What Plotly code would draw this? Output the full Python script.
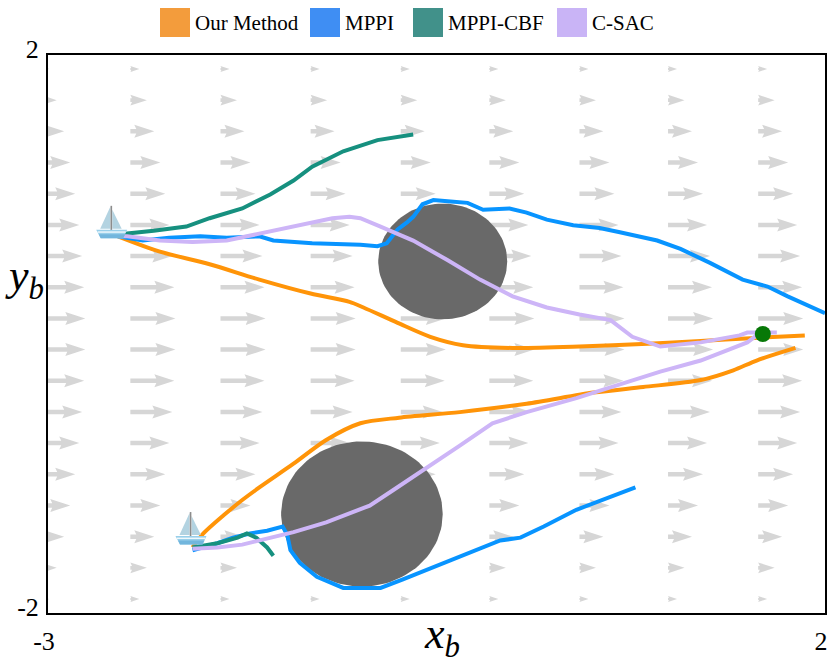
import base64
import numpy as np
import plotly.graph_objects as go

## 1. Data

# wind field: tail x of each arrow column, y of each row, arrow length (x units) per row
wind_x = [-3.05, -2.47, -1.89, -1.31, -0.73, -0.16, 0.42, 0.99, 1.57]
wind_y = [-1.9, -1.676, -1.453, -1.229, -1.006, -0.782, -0.559, -0.335, -0.112,
          0.112, 0.335, 0.559, 0.782, 1.006, 1.229, 1.453, 1.676, 1.9]
wind_u = [0.058, 0.106, 0.154, 0.193, 0.225, 0.251, 0.270, 0.283, 0.290,
          0.290, 0.283, 0.270, 0.251, 0.225, 0.193, 0.154, 0.106, 0.058]

# circular obstacles
obstacle_x = [-0.46, -0.98]
obstacle_y = [0.52, -1.29]
obstacle_r = [0.415, 0.52]

goal_x = [1.6]
goal_y = [0.0]

# boats (bottom centre of the icon)
boat_x = [-2.59, -2.08]
boat_y = [0.675, -1.52]

# trajectories, one upper and one lower run per method
ours_up_x = [-2.55, -2.28, -1.96, -1.64, -1.31, -1.06, -0.97, -0.75, -0.54, -0.33, -0.01, 0.42, 0.86, 1.20, 1.52, 1.87]
ours_up_y = [0.70, 0.59, 0.50, 0.39, 0.29, 0.23, 0.19, 0.08, -0.02, -0.08, -0.10, -0.09, -0.07, -0.05, -0.03, -0.01]
ours_lo_x = [-2.07, -2.00, -1.87, -1.75, -1.64, -1.42, -1.21, -0.99, -0.74, -0.35, 0.08, 0.51, 0.83, 1.20, 1.41, 1.56, 1.81]
ours_lo_y = [-1.53, -1.43, -1.30, -1.19, -1.10, -0.93, -0.76, -0.64, -0.60, -0.56, -0.50, -0.42, -0.38, -0.33, -0.26, -0.19, -0.10]

mppi_up_x = [-2.55, -2.39, -2.22, -2.02, -1.85, -1.64, -1.55, -1.30, -0.99, -0.88, -0.82, -0.78, -0.75, -0.69, -0.65,
             -0.59, -0.52, -0.41, -0.30, -0.20, -0.03, 0.08, 0.21, 0.38, 0.55, 0.68, 0.81, 0.92, 1.07, 1.26,
             1.47, 1.63, 1.76, 1.88, 2.0]
mppi_up_y = [0.70, 0.67, 0.69, 0.70, 0.69, 0.70, 0.67, 0.65, 0.64, 0.63, 0.65, 0.71, 0.75, 0.80, 0.84,
             0.93, 0.96, 0.95, 0.94, 0.89, 0.90, 0.87, 0.82, 0.78, 0.76, 0.73, 0.70, 0.67, 0.61, 0.51,
             0.39, 0.34, 0.27, 0.21, 0.15]
mppi_lo_x = [-2.07, -2.00, -1.91, -1.81, -1.70, -1.59, -1.49, -1.46, -1.44, -1.38, -1.27, -1.10, -0.86, -0.72,
             -0.56, -0.35, -0.09, 0.04, 0.19, 0.40, 0.62, 0.78]
mppi_lo_y = [-1.55, -1.53, -1.50, -1.46, -1.43, -1.41, -1.38, -1.44, -1.55, -1.64, -1.74, -1.82, -1.82, -1.76,
             -1.69, -1.60, -1.48, -1.46, -1.38, -1.26, -1.17, -1.10]

cbf_up_x = [-2.55, -2.49, -2.32, -2.11, -1.96, -1.75, -1.57, -1.42, -1.30, -1.10, -0.88, -0.65]
cbf_up_y = [0.70, 0.72, 0.74, 0.77, 0.83, 0.90, 1.00, 1.10, 1.20, 1.31, 1.39, 1.43]
cbf_lo_x = [-2.07, -1.91, -1.78, -1.72, -1.66, -1.59, -1.55]
cbf_lo_y = [-1.53, -1.50, -1.46, -1.43, -1.46, -1.53, -1.59]

csac_up_x = [-2.55, -2.49, -2.28, -2.07, -1.85, -1.64, -1.42, -1.17, -1.06, -0.99, -0.86, -0.65, -0.43, -0.22,
             -0.01, 0.21, 0.42, 0.62, 0.76, 0.94, 1.20, 1.45, 1.50, 1.69]
csac_up_y = [0.70, 0.70, 0.67, 0.66, 0.67, 0.72, 0.77, 0.83, 0.84, 0.83, 0.77, 0.67, 0.53, 0.39,
             0.27, 0.19, 0.14, 0.10, -0.02, -0.09, -0.06, -0.01, 0.01, 0.01]
csac_lo_x = [-2.07, -1.91, -1.75, -1.64, -1.42, -1.21, -0.93, -0.78, -0.56, -0.35, -0.14, 0.08, 0.40, 0.73,
             0.94, 1.20, 1.41, 1.50, 1.56]
csac_lo_y = [-1.54, -1.53, -1.51, -1.48, -1.42, -1.35, -1.23, -1.12, -0.96, -0.80, -0.64, -0.56, -0.46, -0.34,
             -0.27, -0.19, -0.10, -0.06, -0.01]

methods = ['Our Method', 'MPPI', 'MPPI-CBF', 'C-SAC']
line_color = {'Our Method': '#FF9408', 'MPPI': '#0894FF', 'MPPI-CBF': '#16907F', 'C-SAC': '#CDB5F7'}
patch_color = {'Our Method': '#F39C3C', 'MPPI': '#3F8EF3', 'MPPI-CBF': '#41918A', 'C-SAC': '#C9B4F6'}
runs = {
    'Our Method': [(ours_up_x, ours_up_y), (ours_lo_x, ours_lo_y)],
    'MPPI': [(mppi_up_x, mppi_up_y), (mppi_lo_x, mppi_lo_y)],
    'MPPI-CBF': [(cbf_up_x, cbf_up_y), (cbf_lo_x, cbf_lo_y)],
    'C-SAC': [(csac_up_x, csac_up_y), (csac_lo_x, csac_lo_y)],
}

## 2. Figure geometry
W, H = 831, 666
MARGIN = dict(l=48, r=6, t=55, b=53, pad=0)
X_RANGE = [-3, 2]
Y_RANGE = [-2, 2]
px_x = (W - MARGIN['l'] - MARGIN['r']) / (X_RANGE[1] - X_RANGE[0])
px_y = (H - MARGIN['t'] - MARGIN['b']) / (Y_RANGE[1] - Y_RANGE[0])
FONT = 'Liberation Serif'


def paper_x(px):
    return (px - MARGIN['l']) / (W - MARGIN['l'] - MARGIN['r'])


def paper_y(py):
    return (H - MARGIN['b'] - py) / (H - MARGIN['t'] - MARGIN['b'])


# quiver-like arrow polygons (pixel sizes like matplotlib defaults)
SHAFT, HEAD_W, HEAD_L, HEAD_AX = 4.5, 13.0, 20.0, 18.0


def arrow_poly(x0, y0, u):
    length = u * px_x
    full = max(length, HEAD_L)
    k = length / full
    xs = np.array([0, full - HEAD_AX, full - HEAD_L, full, full - HEAD_L, full - HEAD_AX, 0, 0]) * k
    ys = np.array([-SHAFT, -SHAFT, -HEAD_W, 0, HEAD_W, SHAFT, SHAFT, -SHAFT]) / 2 * k
    return list(x0 + xs / px_x) + [None], list(y0 + ys / px_y) + [None]


fig = go.Figure()

ax_, ay_ = [], []
for j, yy in enumerate(wind_y):
    for xx in wind_x:
        px_, py_ = arrow_poly(xx, yy, wind_u[j])
        ax_ += px_
        ay_ += py_
fig.add_trace(go.Scatter(x=ax_, y=ay_, mode='lines', fill='toself', fillcolor='#D6D6D6',
                         line=dict(width=0, color='#D6D6D6'), hoverinfo='skip', showlegend=False))

# obstacles
theta = np.linspace(0, 2 * np.pi, 120)
for cx, cy, r in zip(obstacle_x, obstacle_y, obstacle_r):
    fig.add_trace(go.Scatter(x=cx + r * np.cos(theta), y=cy + r * np.sin(theta), mode='lines',
                             fill='toself', fillcolor='#696969', line=dict(width=0, color='#696969'),
                             hoverinfo='skip', showlegend=False))

# trajectories
for m in methods:
    for rx, ry in runs[m]:
        fig.add_trace(go.Scatter(x=rx, y=ry, mode='lines', name=m, showlegend=False,
                                 line=dict(color=line_color[m], width=4,
                                           shape='spline' if m == 'Our Method' else 'linear',
                                           smoothing=0.8)))

fig.add_trace(go.Scatter(x=goal_x, y=goal_y, mode='markers', showlegend=False,
                         marker=dict(size=16, color='#077807')))

# boat icons
boat_svg = """<svg xmlns='http://www.w3.org/2000/svg' width='64' height='70' viewBox='0 0 32 35'>
<polygon points='14.6,2 14.6,24 4.5,24' fill='#B3D3E1'/>
<polygon points='16.6,5 16.6,24 26,24' fill='#B3D3E1'/>
<rect x='14.8' y='1' width='1.6' height='24.5' fill='#8C8C8C'/>
<path d='M0.5,25 L31.5,25 L27.5,33.5 L5,33.5 Z' fill='#98CFEA'/>
<rect x='2' y='26.6' width='28' height='1.2' fill='#FFFFFF'/>
<path d='M3,29.5 L29.6,29.5 L27.5,33.5 L5,33.5 Z' fill='#72B6DD'/>
</svg>"""
boat_src = 'data:image/svg+xml;base64,' + base64.b64encode(boat_svg.encode()).decode()
for bx, by in zip(boat_x, boat_y):
    fig.add_layout_image(dict(source=boat_src, xref='x', yref='y', x=bx, y=by,
                              sizex=32 / px_x, sizey=35 / px_y, xanchor='center', yanchor='bottom',
                              sizing='stretch', layer='above'))

# legend drawn by hand: big square patches
patch_left = [160, 310, 413, 557]
for m, left in zip(methods, patch_left):
    fig.add_shape(type='rect', xref='paper', yref='paper',
                  x0=paper_x(left), x1=paper_x(left + 30), y0=paper_y(37), y1=paper_y(8),
                  fillcolor=patch_color[m], line=dict(width=0))
    fig.add_annotation(text=m, xref='paper', yref='paper', x=paper_x(left + 33), y=paper_y(23),
                       xanchor='left', yanchor='middle', showarrow=False,
                       font=dict(family=FONT, size=21, color='black'))

fig.add_annotation(text='<i>x</i><sub><i>b</i></sub>', xref='paper', yref='paper',
                   x=paper_x(442), y=paper_y(636), xanchor='center', yanchor='middle',
                   showarrow=False, font=dict(family=FONT, size=44, color='black'))
fig.add_annotation(text='<i>y</i><sub><i>b</i></sub>', xref='paper', yref='paper',
                   x=paper_x(24), y=paper_y(278), xanchor='center', yanchor='middle',
                   showarrow=False, font=dict(family=FONT, size=44, color='black'))

axis_common = dict(showgrid=False, zeroline=False, showline=True, mirror=True,
                   linecolor='black', linewidth=2, ticks='', ticklabeloverflow='allow',
                   tickfont=dict(family=FONT, size=26, color='black'))
fig.update_xaxes(range=X_RANGE, tickvals=[-3, 2], ticktext=['-3', '2'], ticklabelstandoff=4,
                 ticklabelshift=-4, **axis_common)
fig.update_yaxes(range=Y_RANGE, tickvals=[-2, 2], ticktext=['-2', '2'], ticklabelstandoff=2,
                 ticklabelshift=-6, **axis_common)

fig.update_layout(width=W, height=H, margin=MARGIN, template='none',
                  paper_bgcolor='white', plot_bgcolor='white', showlegend=False)

# the page body has a default 8px margin; drop it so the figure sits at the window corner
fig.write_html("out.html", config={'displayModeBar': False},
               post_script="document.body.style.margin = '0px';")
